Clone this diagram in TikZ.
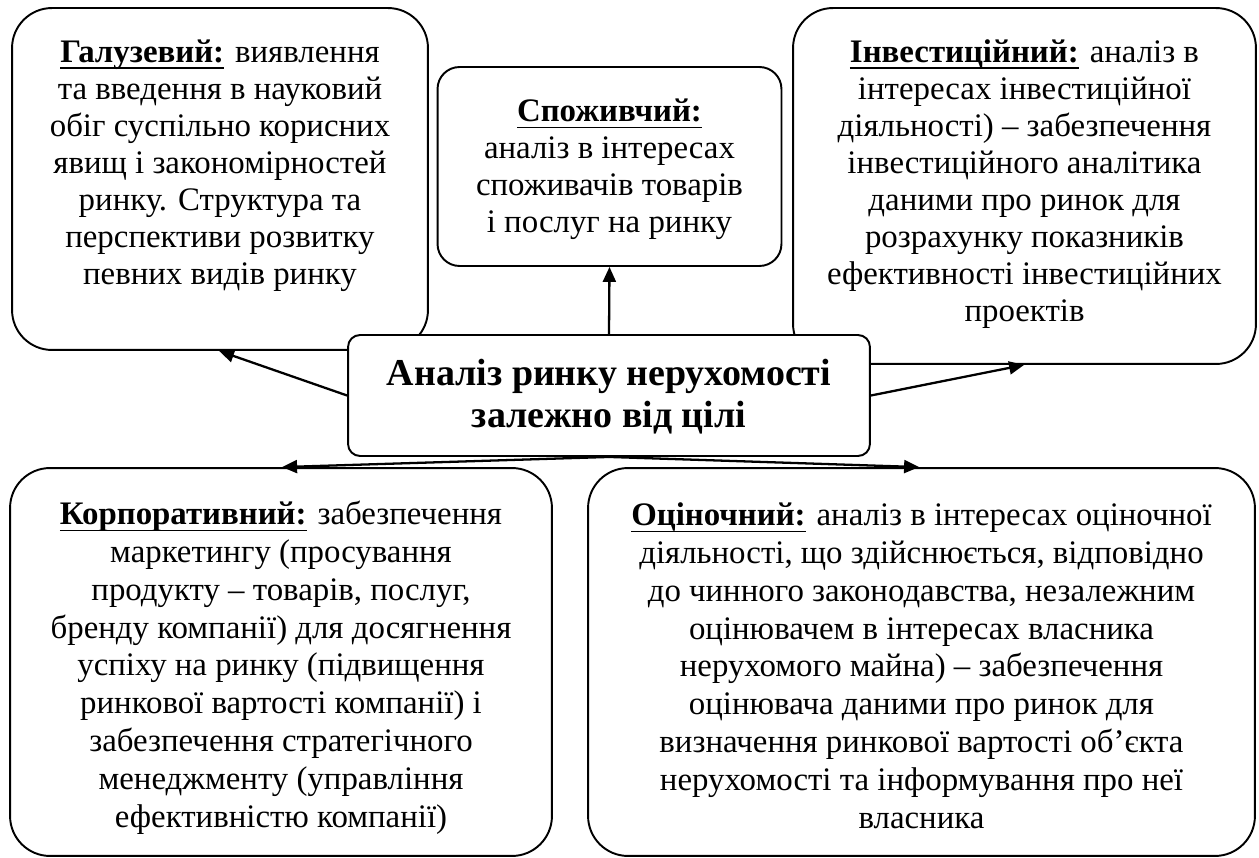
\documentclass[tikz,border=0pt]{standalone}
\usepackage{fontspec}
\setmainfont{Liberation Serif}
\usetikzlibrary{arrows.meta,calc}

% bold heading with a heavy underline
\newlength{\headwd}
\newcommand{\head}[1]{\settowidth{\headwd}{\textbf{#1}}%
  \rlap{\rule[-3.8pt]{\headwd}{1.1pt}}\textbf{#1}}

\begin{document}
\begin{tikzpicture}[x=0.02cm,y=-0.02cm,
  box/.style={draw,line width=1.1pt,fill=white,inner sep=0pt},
  bigbox/.style={box,rounded corners=0.8cm},
  midbox/.style={box,rounded corners=0.44cm},
  hubbox/.style={box,rounded corners=0.24cm},
  % texts are placed by the baseline of their last line
  txt/.style={anchor=base,align=center,inner sep=0pt,
    font=\fontsize{18.7}{21.1}\selectfont},
  lowtxt/.style={txt,font=\fontsize{18.7}{21.5}\selectfont},
  hubtxt/.style={anchor=base,align=center,inner sep=0pt,
    font=\fontsize{21.6}{24}\selectfont\bfseries},
  arr/.style={line width=1.3pt,-{Triangle[length=0.3cm,width=0.26cm]}}]

\useasboundingbox (0,0) rectangle (1259,858);

% outer category boxes
\node[bigbox,minimum width=8.32cm,minimum height=6.84cm] (b1) at (220,179) {};
\node[midbox,minimum width=6.88cm,minimum height=3.98cm] (b2) at (609.5,166.5) {};
\node[bigbox,minimum width=9.26cm,minimum height=7.12cm] (b3) at (1024.5,186) {};
\node[bigbox,minimum width=10.84cm,minimum height=7.76cm] (b4) at (281,662) {};
\node[bigbox,minimum width=13.34cm,minimum height=7.76cm] (b5) at (921.5,662) {};

% central box, drawn over the corners of the upper boxes
\node[hubbox,minimum width=10.44cm,minimum height=2.42cm] (cen) at (609,395.5) {};

% texts
\node[txt] (t1) at (220,285) {\head{Галузевий:} виявлення\\
та введення в науковий\\
обіг суспільно корисних\\
явищ і закономірностей\\
ринку. Структура та\\
перспективи розвитку\\
певних видів ринку};

\node[txt] (t2) at (609.5,233) {\head{Споживчий:}\\
аналіз в інтересах\\
споживачів товарів\\
і послуг на ринку};

\node[txt] (t3) at (1024.5,322) {\head{Інвестиційний:} аналіз в\\
інтересах інвестиційної\\
діяльності) – забезпечення\\
інвестиційного аналітика\\
даними про ринок для\\
розрахунку показників\\
ефективності інвестиційних\\
проектів};

\node[hubtxt] (tc) at (609,428) {Аналіз ринку нерухомості\\
залежно від цілі};

\node[lowtxt] (t4) at (281,827) {\head{Корпоративний:} забезпечення\\
маркетингу (просування\\
продукту – товарів, послуг,\\
бренду компанії) для досягнення\\
успіху на ринку (підвищення\\
ринкової вартості компанії) і\\
забезпечення стратегічного\\
менеджменту (управління\\
ефективністю компанії)};

\node[lowtxt] (t5) at (921.5,828) {\head{Оціночний:} аналіз в інтересах оціночної\\
діяльності, що здійснюється, відповідно\\
до чинного законодавства, незалежним\\
оцінювачем в інтересах власника\\
нерухомого майна) – забезпечення\\
оцінювача даними про ринок для\\
визначення ринкової вартості об’єкта\\
нерухомості та інформування про неї\\
власника};

% connectors
\draw[arr] (cen.north) -- (b2.south);
\draw[arr] (cen.west) -- ($(b1.south west)+(208,0)$);
\draw[arr] (cen.east) -- ($(b3.south west)+(232,0)$);
\draw[arr] (cen.south) -- ($(b4.north west)+(273,0)$);
\draw[arr] (cen.south) -- ($(b5.north west)+(332,0)$);
\end{tikzpicture}
\end{document}
